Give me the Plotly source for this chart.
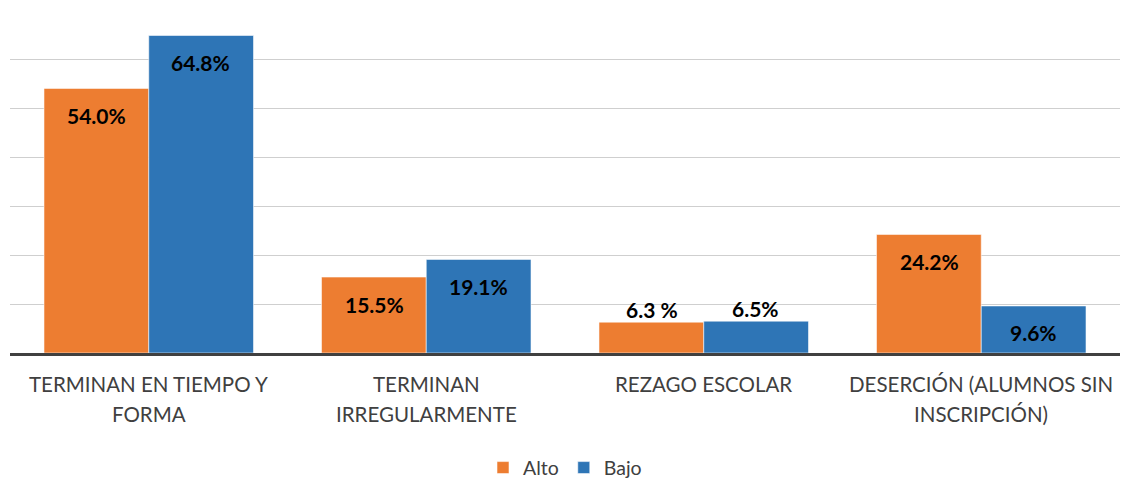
import plotly.graph_objects as go

categories = ["TERMINAN EN TIEMPO Y FORMA", "TERMINAN IRREGULARMENTE",
              "REZAGO ESCOLAR", "DESERCIÓN (ALUMNOS SIN INSCRIPCIÓN)"]
category_lines = [["TERMINAN EN TIEMPO Y", "FORMA"],
                  ["TERMINAN", "IRREGULARMENTE"],
                  ["REZAGO ESCOLAR"],
                  ["DESERCIÓN (ALUMNOS SIN", "INSCRIPCIÓN)"]]
alto = [54.0, 15.5, 6.3, 24.2]
bajo = [64.8, 19.1, 6.5, 9.6]
alto_labels = ["54.0%", "15.5%", "6.3 %", "24.2%"]
bajo_labels = ["64.8%", "19.1%", "6.5%", "9.6%"]

ORANGE = "#ED7D31"
BLUE = "#2E75B6"
TEXT = "#404040"
FONT = "Lato"

fig = go.Figure()
fig.add_trace(go.Bar(x=categories, y=alto, name="Alto", marker_color=ORANGE,
                     marker_line=dict(color="rgba(255,255,255,0.55)", width=1)))
fig.add_trace(go.Bar(x=categories, y=bajo, name="Bajo", marker_color=BLUE,
                     marker_line=dict(color="rgba(255,255,255,0.55)", width=1)))

# value labels: inside near the top for tall bars, above for short ones
label_font = dict(family=FONT, size=21, color="#000000")
for series, labels, shift in ((alto, alto_labels, -52), (bajo, bajo_labels, 52)):
    for cat, v, lab in zip(categories, series, labels):
        ys = 13 if v < 8 else -27
        fig.add_annotation(x=cat, y=v, text="<b>%s</b>" % lab, xshift=shift, yshift=ys,
                           showarrow=False, font=label_font, xanchor="center", yanchor="middle")

# category labels below the axis
for cat, lines in zip(categories, category_lines):
    for i, line in enumerate(lines):
        fig.add_annotation(x=cat, y=0, xref="x", yref="paper", text=line, showarrow=False,
                           yshift=-31 - 30 * i, yanchor="middle",
                           font=dict(family=FONT, size=20.5, color=TEXT))

fig.update_layout(
    width=1122, height=489,
    margin=dict(l=10, r=2, t=10, b=131),
    paper_bgcolor="white", plot_bgcolor="white",
    barmode="group", bargap=0.245, bargroupgap=0.0,
    font=dict(family=FONT, color=TEXT),
    legend=dict(orientation="h", x=0.5, xanchor="center", y=-0.335, yanchor="middle",
                font=dict(size=19.5, color=TEXT), itemwidth=30, traceorder="normal"),
    xaxis=dict(showticklabels=False, showline=True, linecolor="#404040", linewidth=3,
               showgrid=False, ticks=""),
    yaxis=dict(range=[0, 70], dtick=10, showticklabels=False, showgrid=True,
               gridcolor="#cfcfcf", gridwidth=1, zeroline=False, ticks=""),
)

fig.write_html("out.html")
